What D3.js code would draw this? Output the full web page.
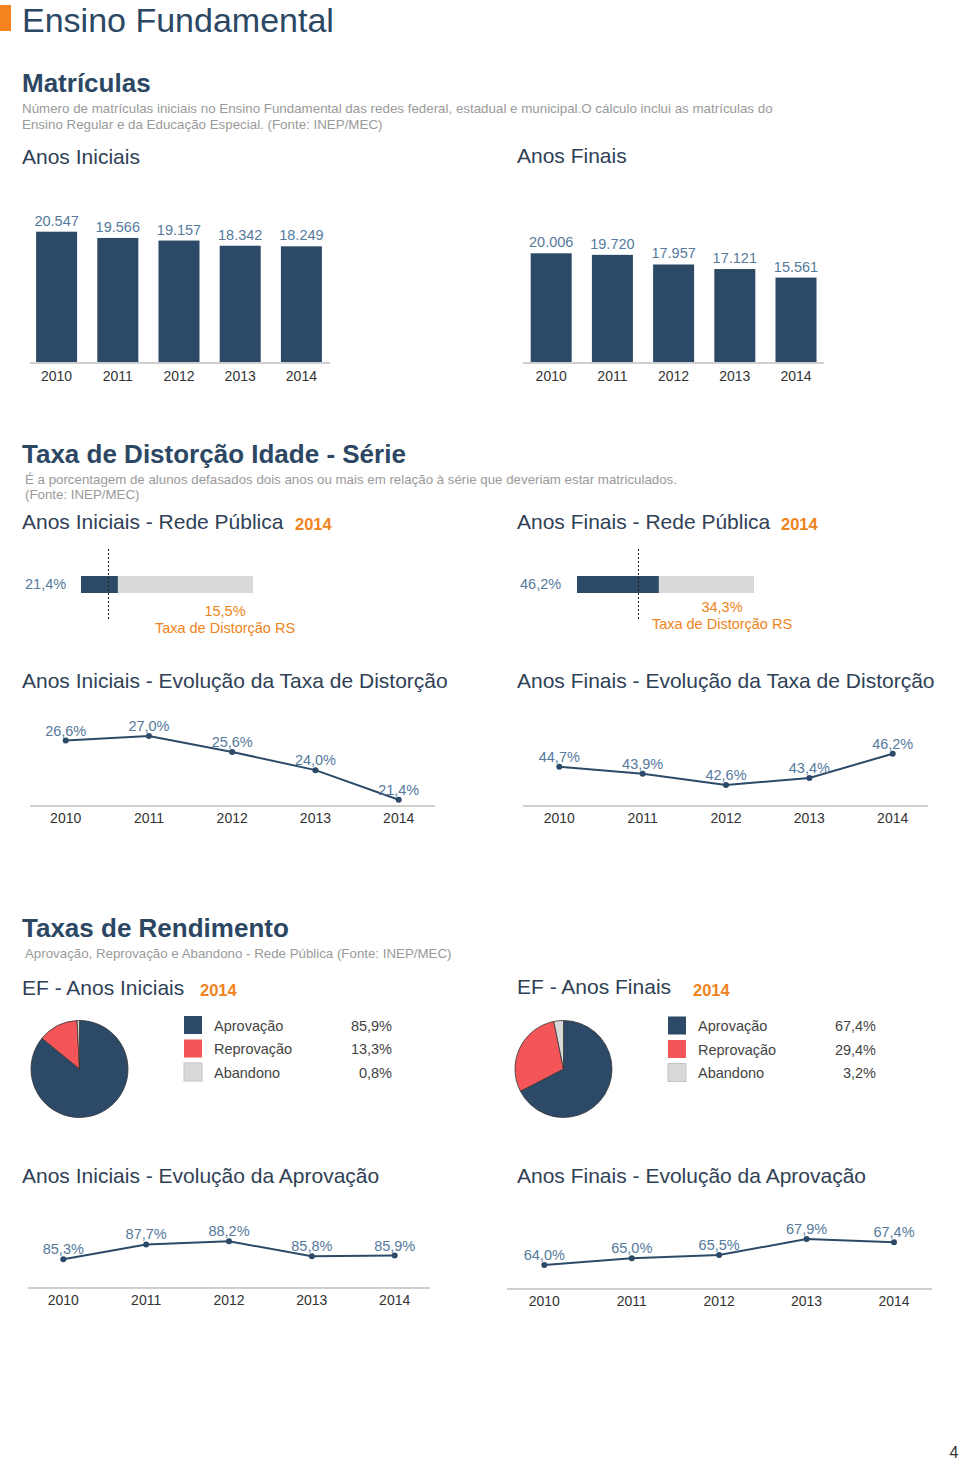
<!DOCTYPE html>
<html><head><meta charset="utf-8">
<script src="https://cdn.jsdelivr.net/npm/d3@7"></script>
<style>
html,body{margin:0;padding:0;background:#fff;}
svg text{font-family:"Liberation Sans",Arial,Helvetica,sans-serif;}
</style></head>
<body>
<svg id="c" width="960" height="1460"></svg>
<script>
// ---------- DATA ----------
const years = ["2010", "2011", "2012", "2013", "2014"];
const matriculasIniciais = [20547, 19566, 19157, 18342, 18249];
const matriculasFinais = [20006, 19720, 17957, 17121, 15561];
const distorcaoPublica2014 = [21.4, 46.2];   // Iniciais, Finais
const distorcaoRS2014 = [15.5, 34.3];        // Iniciais, Finais
const distorcaoIniciais = [26.6, 27.0, 25.6, 24.0, 21.4];
const distorcaoFinais = [44.7, 43.9, 42.6, 43.4, 46.2];
const rendimentoCategorias = ["Aprovação", "Reprovação", "Abandono"];
const rendimentoIniciais = [85.9, 13.3, 0.8];
const rendimentoFinais = [67.4, 29.4, 3.2];
const aprovacaoIniciais = [85.3, 87.7, 88.2, 85.8, 85.9];
const aprovacaoFinais = [64.0, 65.0, 65.5, 67.9, 67.4];

// ---------- STYLE ----------
const C = {
  dark: "#2c4a68", red: "#f45558", gray: "#d9d9d9", orange: "#ee8420",
  title: "#2b4763", head: "#2f4156", sub: "#9a9a9a", val: "#557a9c",
  year: "#333333", axis: "#cfcfcf", legend: "#444444"
};
const loc = d3.formatLocale({decimal: ",", thousands: ".", grouping: [3], currency: ["R$", ""]});
const fmtInt = loc.format(",d");
const fmtPct = v => loc.format(".1f")(v) + "%";

const svg = d3.select("#c");

function txt(x, y, s, o = {}) {
  return svg.append("text").attr("x", x).attr("y", y).text(s)
    .attr("font-size", o.size || 14)
    .attr("font-weight", o.bold ? "bold" : "normal")
    .attr("fill", o.fill || "#333")
    .attr("text-anchor", o.anchor || "start");
}

// ---------- HEADERS ----------
svg.append("rect").attr("x", 0).attr("y", 5).attr("width", 11).attr("height", 26).attr("fill", "#f5821f");
txt(22, 32, "Ensino Fundamental", {size: 34, fill: C.title});

txt(22, 92, "Matrículas", {size: 26, bold: true, fill: C.title});
txt(22, 113, "Número de matrículas iniciais no Ensino Fundamental das redes federal, estadual e municipal.O cálculo inclui as matrículas do", {size: 13.35, fill: C.sub});
txt(22, 129, "Ensino Regular e da Educação Especial. (Fonte: INEP/MEC)", {size: 13.35, fill: C.sub});
txt(22, 164, "Anos Iniciais", {size: 21, fill: C.head});
txt(517, 163, "Anos Finais", {size: 21, fill: C.head});

// ---------- BAR CHARTS ----------
function barChart(values, cfg) {
  const g = svg.append("g");
  const x = d3.scaleBand().domain(years).range([cfg.x0, cfg.x1]).paddingInner(0.33).paddingOuter(0.165);
  const y = d3.scaleLinear().domain([0, d3.max(values)]).range([cfg.base, cfg.top]);
  g.selectAll("rect.b").data(values).join("rect")
    .attr("x", (d, i) => x(years[i])).attr("width", x.bandwidth())
    .attr("y", d => y(d)).attr("height", d => cfg.base - y(d)).attr("fill", C.dark);
  g.append("line").attr("x1", cfg.ax0).attr("x2", cfg.ax1).attr("y1", cfg.base + 0.5).attr("y2", cfg.base + 0.5)
    .attr("stroke", C.axis).attr("stroke-width", 2);
  g.selectAll("text.v").data(values).join("text")
    .attr("x", (d, i) => x(years[i]) + x.bandwidth() / 2).attr("y", d => y(d) - 6)
    .attr("text-anchor", "middle").attr("font-size", 14.5).attr("fill", C.val).text(d => fmtInt(d));
  g.selectAll("text.y").data(years).join("text")
    .attr("x", d => x(d) + x.bandwidth() / 2).attr("y", cfg.base + 18)
    .attr("text-anchor", "middle").attr("font-size", 14).attr("fill", C.year).text(d => d);
}
barChart(matriculasIniciais, {x0: 26, x1: 332, base: 362.5, top: 231.7, ax0: 30, ax1: 330});
barChart(matriculasFinais, {x0: 520.6, x1: 826.6, base: 362.5, top: 253.3, ax0: 523, ax1: 824});

// ---------- DISTORÇÃO ----------
txt(22, 463, "Taxa de Distorção Idade - Série", {size: 26, bold: true, fill: C.title});
txt(25, 484, "É a porcentagem de alunos defasados dois anos ou mais em relação à série que deveriam estar matriculados.", {size: 13.3, fill: C.sub});
txt(25, 499, "(Fonte: INEP/MEC)", {size: 13.3, fill: C.sub});
txt(22, 529, "Anos Iniciais - Rede Pública", {size: 21, fill: C.head});
txt(295, 530, "2014", {size: 16.5, bold: true, fill: C.orange});
txt(517, 529, "Anos Finais - Rede Pública", {size: 21, fill: C.head});
txt(781, 530, "2014", {size: 16.5, bold: true, fill: C.orange});

function bullet(i, cfg) {
  const g = svg.append("g");
  const x = d3.scaleLinear().domain([0, 100]).range([cfg.x0, cfg.x0 + cfg.w]);
  g.append("rect").attr("x", x(0)).attr("y", cfg.y).attr("width", x(100) - x(0)).attr("height", 17).attr("fill", C.gray);
  g.append("rect").attr("x", x(0)).attr("y", cfg.y).attr("width", x(distorcaoPublica2014[i]) - x(0)).attr("height", 17).attr("fill", C.dark);
  const rx = Math.round(x(distorcaoRS2014[i])) + 0.5;
  g.append("line").attr("x1", rx).attr("x2", rx).attr("y1", 549).attr("y2", 619)
    .attr("stroke", "#222").attr("stroke-width", 1).attr("stroke-dasharray", "2,2");
  txt(cfg.lx, cfg.y + 13, fmtPct(distorcaoPublica2014[i]), {size: 14.5, fill: C.val});
  txt(cfg.cx, cfg.ry, fmtPct(distorcaoRS2014[i]), {size: 14.5, fill: C.orange, anchor: "middle"});
  txt(cfg.cx, cfg.ry + 16.5, "Taxa de Distorção RS", {size: 14.5, fill: C.orange, anchor: "middle"});
}
bullet(0, {x0: 81, w: 172, y: 576, lx: 25, cx: 225, ry: 616});
bullet(1, {x0: 577, w: 177, y: 576, lx: 520, cx: 722, ry: 612});

txt(22, 688, "Anos Iniciais - Evolução da Taxa de Distorção", {size: 21, fill: C.head});
txt(517, 688, "Anos Finais - Evolução da Taxa de Distorção", {size: 21, fill: C.head});

function lineChart(values, cfg) {
  const g = svg.append("g");
  const x = d3.scalePoint().domain(years).range([cfg.x0, cfg.x1]);
  const y = d3.scaleLinear().domain(d3.extent(values)).range([cfg.yb, cfg.yt]);
  g.append("line").attr("x1", cfg.ax0).attr("x2", cfg.ax1).attr("y1", cfg.ay).attr("y2", cfg.ay)
    .attr("stroke", C.axis).attr("stroke-width", 2);
  g.append("path").datum(values)
    .attr("d", d3.line().x((d, i) => x(years[i])).y(d => y(d)))
    .attr("fill", "none").attr("stroke", C.dark).attr("stroke-width", 2);
  g.selectAll("circle").data(values).join("circle")
    .attr("cx", (d, i) => x(years[i])).attr("cy", d => y(d)).attr("r", 3).attr("fill", C.dark);
  g.selectAll("text.v").data(values).join("text")
    .attr("x", (d, i) => x(years[i])).attr("y", d => y(d) - 5)
    .attr("text-anchor", "middle").attr("font-size", 14.5).attr("fill", C.val).text(d => fmtPct(d));
  g.selectAll("text.y").data(years).join("text")
    .attr("x", d => x(d)).attr("y", cfg.ay + 17)
    .attr("text-anchor", "middle").attr("font-size", 14).attr("fill", C.year).text(d => d);
}
lineChart(distorcaoIniciais, {x0: 65.7, x1: 398.7, yb: 799.7, yt: 736, ax0: 30, ax1: 435, ay: 806});
lineChart(distorcaoFinais, {x0: 559.3, x1: 892.7, yb: 785, yt: 753.7, ax0: 523, ax1: 928, ay: 806});

// ---------- RENDIMENTO ----------
txt(22, 937, "Taxas de Rendimento", {size: 26, bold: true, fill: C.title});
txt(25, 958, "Aprovação, Reprovação e Abandono - Rede Pública (Fonte: INEP/MEC)", {size: 13.3, fill: C.sub});
txt(22, 995, "EF - Anos Iniciais", {size: 21, fill: C.head});
txt(200, 996, "2014", {size: 16.5, bold: true, fill: C.orange});
txt(517, 994, "EF - Anos Finais", {size: 21, fill: C.head});
txt(693, 996, "2014", {size: 16.5, bold: true, fill: C.orange});

const pieColors = d3.scaleOrdinal().domain(rendimentoCategorias).range([C.dark, C.red, C.gray]);
function pieChart(values, cfg) {
  const g = svg.append("g").attr("transform", `translate(${cfg.cx},${cfg.cy})`);
  const pie = d3.pie().sort(null).value(d => d);
  const arc = d3.arc().innerRadius(0).outerRadius(48.5);
  g.selectAll("path").data(pie(values)).join("path")
    .attr("d", arc).attr("fill", (d, i) => pieColors(rendimentoCategorias[i]))
    .attr("stroke", "#333").attr("stroke-width", 0.8);
  const lg = svg.append("g");
  rendimentoCategorias.forEach((c, i) => {
    const yy = cfg.ly + i * 23.5;
    lg.append("rect").attr("x", cfg.lx).attr("y", yy).attr("width", 18).attr("height", 18)
      .attr("fill", pieColors(c)).attr("stroke", c === "Abandono" ? "#c4c4c4" : "none");
    lg.append("text").attr("x", cfg.lx + 30).attr("y", yy + 14.5).attr("font-size", 14.5)
      .attr("fill", C.legend).text(c);
    lg.append("text").attr("x", cfg.vx).attr("y", yy + 14.5).attr("font-size", 14.5)
      .attr("text-anchor", "end").attr("fill", C.legend).text(fmtPct(values[i]));
  });
}
pieChart(rendimentoIniciais, {cx: 79.5, cy: 1069, lx: 184, ly: 1016, vx: 392});
pieChart(rendimentoFinais, {cx: 563.5, cy: 1069, lx: 668, ly: 1016.5, vx: 876});

txt(22, 1183, "Anos Iniciais - Evolução da Aprovação", {size: 21, fill: C.head});
txt(517, 1183, "Anos Finais - Evolução da Aprovação", {size: 21, fill: C.head});
lineChart(aprovacaoIniciais, {x0: 63.3, x1: 394.7, yb: 1259.3, yt: 1241.3, ax0: 28, ax1: 430, ay: 1288});
lineChart(aprovacaoFinais, {x0: 544.3, x1: 894, yb: 1265, yt: 1239, ax0: 507, ax1: 932, ay: 1289});

txt(954, 1458, "4", {size: 16, fill: "#333", anchor: "middle"});
</script>
</body></html>
